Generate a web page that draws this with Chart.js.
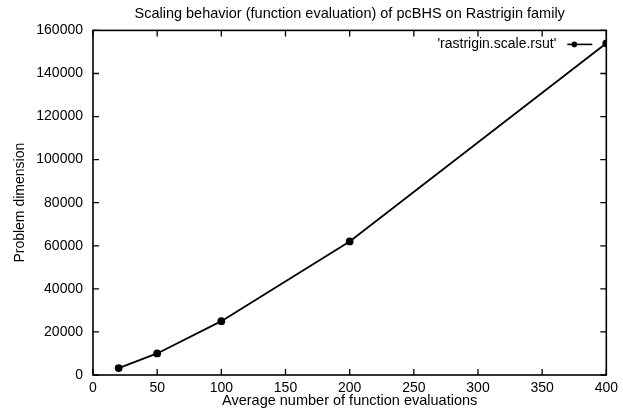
<!DOCTYPE html>
<html>
<head>
<meta charset="utf-8">
<script src="https://cdn.jsdelivr.net/npm/chart.js@4.4.1/dist/chart.umd.min.js"></script>
<style>
  html, body { margin: 0; padding: 0; background: #fff; }
  #wrap { width: 623px; height: 410px; }
</style>
</head>
<body>
<div id="wrap"><canvas id="scaleChart" width="623" height="410"></canvas></div>
<script>
const evaluations = [20, 50, 100, 200, 400];
const dimensions = [3200, 10000, 25000, 62000, 154000];
const seriesName = "'rastrigin.scale.rsut'";

const fontFamily = '"Liberation Sans", Arial, sans-serif';

// gnuplot-like box with inward ticks on all four sides, plus the key
const boxPlugin = {
    id: 'box',
    afterDraw(chart) {
        const ctx = chart.ctx;
        const a = chart.chartArea;
        const xs = chart.scales.x;
        const ys = chart.scales.y;
        ctx.save();
        ctx.strokeStyle = '#000';
        ctx.lineWidth = 1.6;
        ctx.strokeRect(a.left, a.top, a.right - a.left, a.bottom - a.top);
        ctx.lineWidth = 1.3;
        ctx.beginPath();
        xs.ticks.forEach(t => {
            const px = xs.getPixelForValue(t.value);
            ctx.moveTo(px, a.bottom); ctx.lineTo(px, a.bottom - 6);
            ctx.moveTo(px, a.top); ctx.lineTo(px, a.top + 6);
        });
        ys.ticks.forEach(t => {
            const py = ys.getPixelForValue(t.value);
            ctx.moveTo(a.left, py); ctx.lineTo(a.left + 6, py);
            ctx.moveTo(a.right, py); ctx.lineTo(a.right - 6, py);
        });
        ctx.stroke();

        // key
        const ky = a.top + 14;
        const kx = a.right - 14;
        ctx.font = '14px ' + fontFamily;
        ctx.fillStyle = '#000';
        ctx.textAlign = 'right';
        ctx.textBaseline = 'middle';
        ctx.fillText(seriesName, kx - 36, ky);
        ctx.lineWidth = 1.6;
        ctx.beginPath();
        ctx.moveTo(kx - 25, ky); ctx.lineTo(kx, ky);
        ctx.stroke();
        ctx.beginPath();
        ctx.arc(kx - 18, ky, 2.8, 0, Math.PI * 2);
        ctx.fill();
        ctx.restore();
    }
};

new Chart(document.getElementById('scaleChart'), {
    type: 'line',
    data: {
        labels: evaluations,
        datasets: [{
            label: seriesName,
            data: evaluations.map((x, i) => ({ x: x, y: dimensions[i] })),
            borderColor: '#000',
            backgroundColor: '#000',
            borderWidth: 1.8,
            pointRadius: 3,
            pointHoverRadius: 3,
            tension: 0,
            fill: false
        }]
    },
    options: {
        responsive: false,
        animation: false,
        layout: { padding: { top: 0, right: 16, bottom: 0, left: 0 } },
        plugins: {
            legend: { display: false },
            tooltip: { enabled: false },
            title: {
                display: true,
                fullSize: false,
                text: 'Scaling behavior (function evaluation) of pcBHS on Rastrigin family',
                color: '#000',
                font: { family: fontFamily, size: 14.5, weight: 'normal' },
                padding: { top: 5, bottom: 8 }
            }
        },
        scales: {
            x: {
                type: 'linear',
                min: 0,
                max: 400,
                ticks: { stepSize: 50, color: '#000', font: { family: fontFamily, size: 14 }, padding: 5, maxRotation: 0 },
                grid: { display: false, drawTicks: false },
                border: { display: false },
                title: {
                    display: true,
                    text: 'Average number of function evaluations',
                    color: '#000',
                    font: { family: fontFamily, size: 14.5 },
                    padding: { top: 0, bottom: 0 }
                },
                afterFit(scale) { scale.height = 35; }
            },
            y: {
                type: 'linear',
                min: 0,
                max: 160000,
                ticks: {
                    stepSize: 20000,
                    color: '#000',
                    font: { family: fontFamily, size: 14 },
                    padding: 10,
                    callback: v => String(v)
                },
                grid: { display: false, drawTicks: false },
                border: { display: false },
                title: {
                    display: true,
                    text: 'Problem dimension',
                    color: '#000',
                    font: { family: fontFamily, size: 14 },
                    padding: { top: 12, bottom: 0 }
                },
                afterFit(scale) { scale.width = 93; }
            }
        }
    },
    plugins: [boxPlugin]
});
</script>
</body>
</html>
